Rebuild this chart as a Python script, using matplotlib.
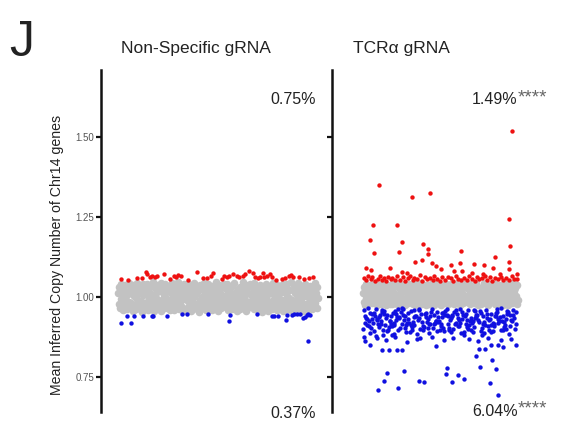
import matplotlib
matplotlib.use("Agg")
import matplotlib.pyplot as plt
import numpy as np

plt.rcParams['font.family'] = ['Liberation Sans', 'DejaVu Sans']

# ---------------- data ----------------
panel_titles = ["Non-Specific gRNA", "TCR\u03b1 gRNA"]
top_pct = ["0.75%", "1.49%"]
bot_pct = ["0.37%", "6.04%"]
top_sig = ["", "****"]
bot_sig = ["", "****"]
y_ticks = [0.75, 1.00, 1.25, 1.50]
y_tick_labels = ["0.75", "1.00", "1.25", "1.50"]
y_label = "Mean Inferred Copy Number of Chr14 genes"

# Non-specific gRNA: gray (unchanged) cells, ordered by cell rank
ns_gray_y = [
    1.012,0.978,1.031,0.965,0.995,1.041,0.987,1.004,0.958,1.023,0.972,1.036,0.991,1.017,0.962,1.008,0.983,1.045,0.969,1.027,
    0.981,1.019,0.956,1.038,1.002,0.974,1.029,0.961,0.993,1.044,0.977,1.011,0.966,1.033,0.988,1.021,0.954,1.006,1.039,0.971,
    1.025,0.963,1.009,0.985,1.042,0.959,1.015,0.997,0.968,1.035,1.001,0.976,1.046,0.989,0.957,1.028,0.973,1.013,0.994,1.037,
    0.967,1.032,0.984,1.018,0.955,1.043,0.992,1.026,0.979,1.007,0.964,1.040,0.998,0.970,1.022,0.986,1.034,0.960,1.014,0.990,
    1.044,0.975,1.003,0.958,1.030,0.982,1.020,0.966,1.010,0.996,1.047,0.962,1.024,0.980,1.036,0.969,1.000,0.955,1.016,1.039,
    0.993,1.027,0.961,1.012,0.987,1.041,0.973,1.005,1.033,0.957,1.019,0.984,0.968,1.045,0.999,1.023,0.978,1.008,0.963,1.030,
    1.018,0.954,1.037,0.991,0.972,1.026,1.001,0.965,1.043,0.983,1.011,0.959,1.029,0.995,0.976,1.040,0.967,1.015,0.988,1.004,
    0.960,1.034,0.985,1.021,0.970,1.009,1.046,0.979,0.994,1.025,0.956,1.038,0.990,1.013,0.964,1.031,0.997,0.974,1.042,0.981,
    1.028,0.968,1.006,1.039,0.986,0.958,1.022,0.975,1.014,0.999,1.035,0.963,1.002,0.982,1.044,0.971,1.017,0.992,0.957,1.024,
    0.977,1.010,0.962,1.032,0.996,1.020,0.980,1.047,0.966,1.003,0.989,1.036,0.955,1.027,0.973,1.012,0.984,1.040,0.969,1.007,
    1.035,0.988,1.016,0.961,1.043,0.974,1.000,0.993,1.026,0.959,1.019,0.979,1.038,0.965,1.009,0.997,0.954,1.030,0.986,1.021,
    0.970,1.041,0.994,1.005,0.957,1.024,0.983,1.033,0.976,1.013,0.963,1.045,0.990,1.018,0.968,1.029,1.001,0.960,1.037,0.985,
    1.008,0.966,1.031,0.978,1.020,0.992,1.042,0.956,1.015,0.981,1.027,0.971,1.004,1.039,0.962,0.998,1.023,0.975,1.046,0.958,
    0.991,1.022,0.969,1.036,0.982,1.011,0.960,1.028,0.995,1.044,0.977,1.006,0.964,1.032,0.987,1.017,0.957,1.025,0.973,1.003,
    1.040,0.979,1.014,0.955,1.026,0.997,0.967,1.035,0.984,1.010,0.961,1.021,0.993,0.972,1.043,0.980,1.012,0.965,1.030,0.996,
]
ns_red_x = [1.3,9.7,11.8,13.8,14.7,16,17.2,18.7,19.3,23,28,29,29.8,31.5,39.3,42.7,44.7,46.3,47.7,51.8,53.2,54.3,55.7,57.3,
            59.3,60.7,62.3,63.3,65.3,67.7,68.5,69.8,71,72.3,73,74.7,76,76.8,81.8,83.5,85.7,86.7,87.3,90.7,93,95.7,97.3,
            5,35,79,26]
ns_red_y = [1.055,1.058,1.059,1.078,1.071,1.063,1.067,1.063,1.066,1.072,1.066,1.063,1.069,1.066,1.078,1.058,1.059,1.064,1.074,
            1.057,1.064,1.061,1.066,1.072,1.066,1.061,1.066,1.071,1.082,1.076,1.063,1.058,1.061,1.076,1.063,1.066,1.072,1.061,
            1.055,1.058,1.066,1.068,1.063,1.063,1.055,1.059,1.063,1.052,1.054,1.053,1.056]
ns_blue_x = [1.3,4.7,6.5,8,12.7,16.8,17.3,24.7,31.8,34.7,45.2,56,55.7,69.3,76.8,78,80.2,84,84.3,86.8,88,89.3,91,92.7,
             93.5,94.3,95.2,96,95]
ns_blue_y = [0.920,0.941,0.920,0.942,0.942,0.942,0.939,0.941,0.947,0.946,0.947,0.944,0.926,0.946,0.942,0.942,0.941,0.928,
             0.944,0.944,0.946,0.946,0.946,0.933,0.938,0.944,0.947,0.944,0.862]

# TCRa gRNA
tcr_gray_y = [
    1.012,0.985,1.031,0.976,0.998,1.040,0.991,1.006,0.979,1.023,0.988,1.036,0.995,1.017,0.981,1.008,0.993,1.043,0.983,1.027,
    0.990,1.019,0.975,1.037,1.003,0.986,1.029,0.978,0.997,1.042,0.984,1.011,0.980,1.033,0.994,1.021,0.974,1.006,1.038,0.987,
    1.025,0.979,1.009,0.992,1.041,0.977,1.015,1.000,0.982,1.034,1.002,0.986,1.044,0.996,0.976,1.028,0.985,1.013,0.999,1.036,
    0.981,1.032,0.993,1.018,0.974,1.042,0.996,1.026,0.988,1.007,0.980,1.039,1.001,0.983,1.022,0.992,1.034,0.977,1.014,0.995,
    1.043,0.987,1.004,0.976,1.030,0.990,1.020,0.982,1.010,0.999,1.044,0.979,1.024,0.989,1.036,0.984,1.001,0.975,1.016,1.038,
    0.997,1.027,0.978,1.012,0.992,1.040,0.986,1.005,1.033,0.976,1.019,0.991,0.983,1.044,1.000,1.023,0.988,1.008,0.979,1.030,
    1.018,0.974,1.037,0.995,0.985,1.026,1.002,0.980,1.042,0.990,1.011,0.977,1.029,0.998,0.987,1.039,0.982,1.015,0.993,1.004,
    0.978,1.034,0.992,1.021,0.984,1.009,1.044,0.989,0.997,1.025,0.975,1.038,0.994,1.013,0.981,1.031,1.000,0.986,1.041,0.990,
    1.028,0.983,1.006,1.039,0.993,0.977,1.022,0.987,1.014,1.001,1.035,0.980,1.003,0.991,1.043,0.985,1.017,0.996,0.976,1.024,
    0.988,1.010,0.979,1.032,0.999,1.020,0.990,1.044,0.982,1.003,0.995,1.036,0.974,1.027,0.986,1.012,0.992,1.040,0.984,1.007,
    1.035,0.994,1.016,0.978,1.042,0.987,1.001,0.997,1.026,0.977,1.019,0.990,1.038,0.981,1.009,0.999,0.975,1.030,0.993,1.021,
    0.985,1.041,0.998,1.005,0.976,1.024,0.991,1.033,0.988,1.013,0.980,1.044,0.996,1.018,0.983,1.029,1.002,0.978,1.037,0.992,
]
tcr_red_x = [10.3,31.4,43.4,6.6,21.7,94,96.1,
             4.3,25,38.9,41.7,41.7,7.3,23.4,63.2,94.8,33.7,37.9,44.7,47.1,56.8,62.6,71.4,78.1,85.4,94.2,94.2,
             1.9,5.2,17.4,25,28.2,50.3,58.9,64.1,70.1,77.6,84.1,88.4,99.2,
             0.5,2,3.5,5,6,8,9.5,11,12,13.5,15,16,18,19,20.5,22,24,26,27,29,30.5,32,33,35,36.5,38,40,41,43,45,46,
             48,49.5,51,53,55,57,58,60,61.5,63,65,67,68.5,70,72,73.5,75,77,79,80,82,83.5,85,87,89,90.5,92,94,96,
             97.5,99.5]
tcr_red_y = [1.349,1.313,1.325,1.226,1.226,1.243,1.519,
             1.177,1.172,1.165,1.149,1.134,1.1375,1.140,1.145,1.158,1.108,1.115,1.106,1.098,1.101,1.105,1.102,1.099,
             1.124,1.108,1.088,
             1.092,1.085,1.092,1.077,1.076,1.087,1.082,1.082,1.074,1.072,1.091,1.072,1.071,
             1.058,1.052,1.064,1.055,1.061,1.050,1.057,1.066,1.053,1.060,1.051,1.063,1.056,1.059,1.052,1.067,1.054,
             1.061,1.050,1.058,1.064,1.053,1.060,1.056,1.068,1.051,1.062,1.055,1.059,1.052,1.065,1.057,1.050,1.061,
             1.054,1.063,1.058,1.051,1.066,1.056,1.053,1.060,1.052,1.064,1.057,1.050,1.062,1.055,1.059,1.067,1.053,
             1.061,1.051,1.058,1.056,1.063,1.052,1.060,1.054,1.065,1.057,1.055]
tcr_blue_x = [
    0.8,5.9,10.2,15.6,20.3,25.8,30.1,35.4,40.9,45.2,50.7,55.1,60.6,65.3,70.8,75.2,80.5,85.9,90.1,95.6,
    2.7,7.4,12.9,17.1,22.6,27.3,32.8,37.0,42.5,47.9,52.2,57.6,62.0,67.7,72.1,77.8,82.3,87.4,92.9,98.2,
    1.5,4.3,9.0,13.8,18.7,23.4,28.9,33.2,38.6,43.1,48.5,53.9,58.3,63.8,68.2,73.6,78.1,83.7,88.2,93.7,
    3.8,8.2,11.7,16.4,21.5,26.6,31.4,36.3,41.7,46.4,51.3,56.8,61.2,66.5,71.4,76.5,81.7,86.2,91.5,97.0,
    0.3,6.5,10.9,14.7,19.8,24.5,29.6,34.1,39.4,44.6,49.3,54.4,59.7,64.1,69.5,74.1,79.4,84.5,89.6,94.4,
    2.1,5.2,12.3,17.9,21.0,27.9,30.7,36.8,40.2,47.1,50.1,57.0,62.7,66.9,72.8,77.1,82.9,87.0,93.1,99.0,
    4.8,9.7,13.1,18.2,23.9,26.1,32.2,35.9,42.9,45.8,52.8,55.7,61.8,65.8,70.3,75.9,80.1,86.7,90.7,95.1,
    1.1,7.9,11.4,16.9,20.9,25.1,31.9,37.7,41.3,48.2,51.8,58.6,63.3,69.0,73.2,78.9,84.1,88.8,92.3,96.5,
    3.3,6.9,14.2,19.3,22.2,28.4,33.7,39.0,44.0,49.9,54.9,59.2,64.6,67.2,71.9,76.0,81.2,85.3,91.1,97.7,
    0.5,5.5,10.6,15.2,20.0,24.9,29.3,34.8,40.5,45.5,50.4,55.6,60.1,65.0,69.9,74.8,79.9,84.8,89.3,94.9,
    2.4,8.6,12.5,17.6,22.9,27.0,31.0,36.1,42.0,46.9,53.0,56.2,61.5,66.3,71.1,77.4,82.6,87.9,92.5,98.6,
    4.0,9.2,13.5,18.9,23.1,28.0,33.0,38.2,43.5,48.0,51.0,57.3,62.4,67.9,72.4,76.8,81.0,86.0,90.4,96.0,
    1.0,9.0,14.9,20.5,28.5,35.0,44.3,52.5,58.0,68.7,73.9,80.8,89.0,95.5,
    4.5,12.1,17.0,22.1,25.0,47.3,75.0,78.7,82.5,86.9,90.1,98.4,
    72.9,83,75.7,85.8,15.3,26.6,54.2,53.4,61.5,65.4,57.2,13.5,36.1,39.5,9.5,22.4,82.1,86.9,
]
tcr_blue_y = [
    0.958,0.931,0.905,0.944,0.918,0.962,0.889,0.927,0.951,0.903,0.936,0.914,0.948,0.880,0.924,0.955,0.909,0.939,0.897,0.929,
    0.912,0.949,0.897,0.925,0.961,0.904,0.938,0.872,0.917,0.953,0.893,0.941,0.908,0.959,0.934,0.886,0.946,0.919,0.957,0.901,
    0.942,0.887,0.928,0.956,0.909,0.934,0.950,0.913,0.896,0.940,0.921,0.962,0.899,0.930,0.911,0.944,0.923,0.895,0.937,0.952,
    0.924,0.963,0.915,0.898,0.947,0.927,0.906,0.958,0.932,0.918,0.949,0.891,0.935,0.916,0.960,0.903,0.931,0.954,0.912,0.945,
    0.899,0.920,0.943,0.933,0.885,0.952,0.919,0.940,0.907,0.963,0.926,0.945,0.920,0.953,0.898,0.928,0.958,0.908,0.925,0.884,
    0.935,0.904,0.960,0.915,0.929,0.891,0.955,0.901,0.946,0.925,0.910,0.933,0.961,0.906,0.943,0.917,0.889,0.930,0.948,0.915,
    0.950,0.914,0.881,0.939,0.902,0.944,0.922,0.933,0.888,0.914,0.957,0.902,0.927,0.940,0.919,0.893,0.934,0.962,0.906,0.943,
    0.918,0.939,0.926,0.907,0.955,0.916,0.897,0.946,0.921,0.937,0.903,0.952,0.887,0.924,0.936,0.911,0.919,0.898,0.932,0.960,
    0.965,0.895,0.911,0.951,0.936,0.920,0.941,0.910,0.954,0.896,0.939,0.917,0.944,0.929,0.905,0.951,0.898,0.942,0.921,0.934,
    0.876,0.948,0.938,0.893,0.913,0.966,0.930,0.885,0.938,0.945,0.916,0.896,0.958,0.890,0.933,0.922,0.947,0.915,0.964,0.909,
    0.930,0.877,0.952,0.926,0.897,0.940,0.912,0.961,0.903,0.926,0.944,0.928,0.909,0.947,0.892,0.940,0.913,0.926,0.899,0.953,
    0.908,0.931,0.946,0.882,0.938,0.911,0.960,0.923,0.916,0.894,0.951,0.943,0.918,0.901,0.957,0.881,0.929,0.949,0.939,0.924,
    0.862,0.871,0.866,0.874,0.858,0.868,0.876,0.864,0.872,0.869,0.861,0.873,0.866,0.870,
    0.850,0.834,0.834,0.834,0.834,0.847,0.836,0.836,0.850,0.850,0.845,0.850,
    0.817,0.803,0.782,0.774,0.761,0.769,0.777,0.758,0.755,0.745,0.733,0.7375,0.7375,0.735,0.710,0.717,0.730,0.693,
]

# ---------------- figure ----------------
W, H = 564, 422
fig = plt.figure(figsize=(W / 100, H / 100), dpi=100)

def fx(px):
    return px / W

def fy(py):
    return 1 - py / H

ax_top_px, ax_bot_px = 70, 412
ylim = (0.6406, 1.709)

# left panel: spine at 101 px, data 0..100 -> 118..318 px
axL = fig.add_axes([fx(101), fy(ax_bot_px), fx(325) - fx(101), fy(ax_top_px) - fy(ax_bot_px)])
axL.set_xlim((101 - 118) / 2.0, (325 - 118) / 2.0)
# right panel: spine at 332 px, data 0..100 -> 363..518 px
axR = fig.add_axes([fx(332), fy(ax_bot_px), fx(552) - fx(332), fy(ax_top_px) - fy(ax_bot_px)])
axR.set_xlim((332 - 363) / 1.55, (552 - 363) / 1.55)

gray_c = '#c2c2c2'
red_c = '#ee1111'
blue_c = '#1010e0'
s_gray = 30
s_col = 10

def pairs(xs, ys):
    n = min(len(xs), len(ys))
    return xs[:n], ys[:n]

for ax, gy, rx, ry, bx, by in [
    (axL, ns_gray_y, ns_red_x, ns_red_y, ns_blue_x, ns_blue_y),
    (axR, tcr_gray_y, tcr_red_x, tcr_red_y, tcr_blue_x, tcr_blue_y),
]:
    gx = np.linspace(0, 100, len(gy))
    ax.scatter(gx, gy, s=s_gray, color=gray_c, linewidths=0, zorder=2)
    rx, ry = pairs(rx, ry)
    bx, by = pairs(bx, by)
    ax.scatter(rx, ry, s=s_col, color=red_c, linewidths=0, zorder=3)
    ax.scatter(bx, by, s=s_col, color=blue_c, linewidths=0, zorder=3)
    ax.set_ylim(*ylim)
    ax.set_yticks(y_ticks)
    for sp in ['top', 'right', 'bottom']:
        ax.spines[sp].set_visible(False)
    ax.spines['left'].set_linewidth(1.8)
    ax.spines['left'].set_color('#111111')
    ax.set_xticks([])
    ax.tick_params(axis='y', direction='out', length=3.5, width=1.6, color='#111111',
                   labelsize=7, labelcolor='#555555', pad=1.5)
    ax.patch.set_alpha(0)

axL.set_yticklabels(y_tick_labels)
axR.set_yticklabels([])

# titles
fig.text(fx(195.5), fy(48), panel_titles[0], ha='center', va='center', fontsize=12.5, color='#222222')
fig.text(fx(401.7), fy(48), panel_titles[1], ha='center', va='center', fontsize=12.5, color='#222222')

# panel letter
fig.text(fx(22), fy(43), "J", ha='center', va='center', fontsize=36, color='#222222')

# y label
fig.text(fx(57), fy(255), y_label, rotation=90, ha='center', va='center', fontsize=10.2, color='#222222')

# percentages
fig.canvas.draw()
renderer = fig.canvas.get_renderer()

def pct(right_px, cy_px, main, sig):
    x_end = right_px
    if sig:
        t = fig.text(fx(right_px), fy(cy_px - 2), sig, ha='right', va='center', fontsize=13.5, color='#666666')
        bb = t.get_window_extent(renderer=renderer)
        x_end = right_px - bb.width
    fig.text(fx(x_end), fy(cy_px), main, ha='right', va='center', fontsize=11.5, color='#222222')

pct(316, 100, top_pct[0], top_sig[0])
pct(316, 413, bot_pct[0], bot_sig[0])
pct(547, 100, top_pct[1], top_sig[1])
pct(547, 411, bot_pct[1], bot_sig[1])

fig.savefig("out.png", dpi=100)
